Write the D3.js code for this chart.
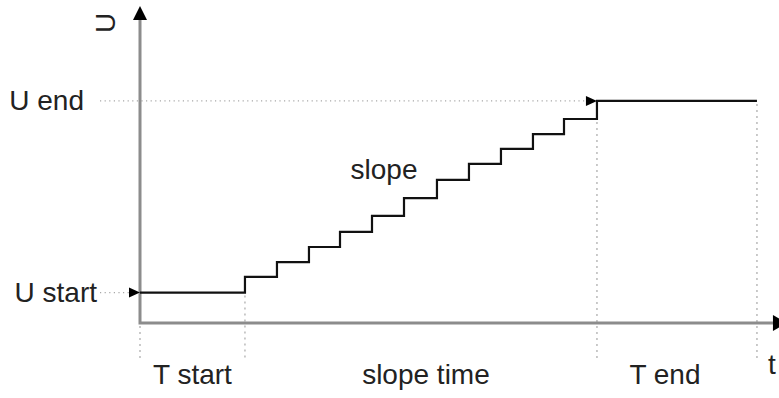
<!DOCTYPE html>
<html>
<head>
<meta charset="utf-8">
<script src="https://cdn.jsdelivr.net/npm/d3@7"></script>
<style>
  html, body { margin: 0; padding: 0; background: #fff; }
  svg { display: block; }
  text { font-family: "Liberation Sans", Arial, sans-serif; fill: #222; }
</style>
</head>
<body>
<svg id="chart" width="779" height="398"></svg>
<script>
// ---- data (time and voltage in arbitrary units) ----
const stepTimes  = [3.28, 4.28, 5.28, 6.25, 7.25, 8.25, 9.28, 10.28, 11.28, 12.28, 13.25, 14.28];
const stepLevels = [1.9, 2.88, 3.81, 4.75, 5.69, 6.69, 7.81, 8.94, 9.94, 10.88, 11.81, 12.75, 13.88];
const tEnd = 19.28;
const axisMaxT = 19.78;
const axisMaxU = 19.2;
const phaseLabels = ["T start", "slope time", "T end"];
const levelLabels = ["U start", "U end"];
const axisLabels = ["U", "t"];
const curveLabel = "slope";

// ---- scales ----
const x = d3.scaleLinear().domain([0, 20]).range([140, 780]);
const y = d3.scaleLinear().domain([0, 20]).range([323, 3]);

const svg = d3.select("#chart");
const FONT = 28;

// phase boundaries on time axis
const tMarks = [0, stepTimes[0], stepTimes[stepTimes.length - 1], tEnd];
const uStart = stepLevels[0], uEnd = stepLevels[stepLevels.length - 1];

// ---- dotted guide lines ----
const guide = svg.append("g").attr("stroke", "#a8a8a8").attr("stroke-width", 1.2).attr("fill", "none");
// vertical
const vTop = [null, uStart, uEnd, uEnd];
tMarks.forEach((t, i) => {
  const y0 = i === 0 ? y(0) + 3 : y(vTop[i]) + 3;
  guide.append("line")
    .attr("x1", x(t)).attr("x2", x(t))
    .attr("y1", y0).attr("y2", 358)
    .attr("stroke-dasharray", "2,4");
});
// horizontal
guide.append("line").attr("x1", 100).attr("x2", x(0) - 11)
  .attr("y1", y(uStart)).attr("y2", y(uStart)).attr("stroke-dasharray", "1.2,3.4");
guide.append("line").attr("x1", 100).attr("x2", x(tMarks[2]) - 12)
  .attr("y1", y(uEnd)).attr("y2", y(uEnd)).attr("stroke-dasharray", "1.2,3.4");

// ---- axes ----
const axis = svg.append("g");
axis.append("path")
  .attr("d", `M${x(0)},${y(axisMaxU)} L${x(0)},${y(0)} L${x(axisMaxT)},${y(0)}`)
  .attr("fill", "none").attr("stroke", "#8c8c8c").attr("stroke-width", 3);
// arrowheads
axis.append("path")
  .attr("d", `M${x(0)},6 L${x(0) - 7},20 L${x(0) + 7},20 Z`).attr("fill", "#000");
axis.append("path")
  .attr("d", `M${x(axisMaxT)},${y(0) - 8} L${x(axisMaxT) + 14},${y(0)} L${x(axisMaxT)},${y(0) + 8} Z`).attr("fill", "#000");

// ---- step curve ----
const pts = [[0, uStart]];
stepTimes.forEach((t, i) => {
  pts.push([t, stepLevels[i]]);
  pts.push([t, stepLevels[i + 1]]);
});
pts.push([tEnd, uEnd]);
const line = d3.line().x(d => x(d[0])).y(d => y(d[1]));
svg.append("path").datum(pts)
  .attr("d", line)
  .attr("fill", "none").attr("stroke", "#111").attr("stroke-width", 2.2)
  .attr("stroke-linejoin", "miter");

// level arrowheads
[[0, uStart], [tMarks[2], uEnd]].forEach(([t, u]) => {
  svg.append("path")
    .attr("d", `M${x(t) - 11},${y(u) - 5} L${x(t)},${y(u)} L${x(t) - 11},${y(u) + 5} Z`)
    .attr("fill", "#000");
});

// ---- texts ----
// level labels
svg.append("text").attr("x", 97).attr("y", y(uStart) + 9).attr("text-anchor", "end")
  .attr("font-size", FONT).text(levelLabels[0]);
svg.append("text").attr("x", 84).attr("y", y(uEnd) + 9).attr("text-anchor", "end")
  .attr("font-size", FONT).text(levelLabels[1]);

// phase labels below axis
const phaseNudge = [0, 5, -12];
phaseLabels.forEach((lab, i) => {
  const cx = (x(tMarks[i]) + x(tMarks[i + 1])) / 2 + phaseNudge[i];
  svg.append("text").attr("x", cx).attr("y", 384).attr("text-anchor", "middle")
    .attr("font-size", FONT).text(lab);
});

// axis labels
svg.append("text").attr("transform", `translate(115,23) rotate(-90)`)
  .attr("text-anchor", "middle").attr("font-size", FONT).text(axisLabels[0]);
svg.append("text").attr("x", 768).attr("y", 374)
  .attr("font-size", FONT).text(axisLabels[1]);

// curve label
svg.append("text").attr("x", 384).attr("y", 179).attr("text-anchor", "middle")
  .attr("font-size", FONT).text(curveLabel);
</script>
</body>
</html>
